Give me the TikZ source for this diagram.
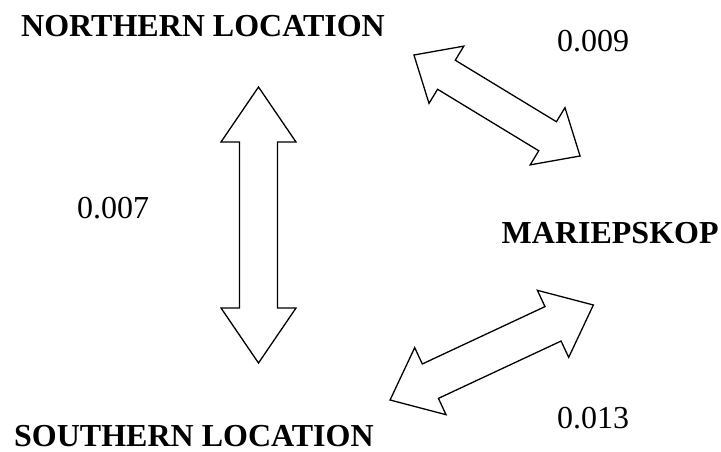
\documentclass[tikz,border=0pt]{standalone}
\usepackage{fontspec}
\setmainfont{Liberation Serif}

\tikzset{
  place/.style={anchor=base west, inner sep=0pt, font=\fontsize{32}{38}\selectfont\bfseries},
  value/.style={anchor=base west, inner sep=0pt, font=\fontsize{32}{38}\selectfont},
  hollow/.style={draw=black, fill=white, line width=1.3pt, line join=miter, miter limit=10}
}

% Hollow double-headed block arrow:
% #1,#2 centre; #3 angle; #4 half length; #5 head length;
% #6 head half width; #7 shaft half width
\newcommand\dblarrow[7]{%
  \begin{scope}[shift={(#1,#2)}, rotate=#3]
    \draw[hollow]
      (-#4,0) -- (-#4+#5,#6) -- (-#4+#5,#7) -- (#4-#5,#7) -- (#4-#5,#6)
      -- (#4,0) -- (#4-#5,-#6) -- (#4-#5,-#7) -- (-#4+#5,-#7)
      -- (-#4+#5,-#6) -- cycle;
  \end{scope}}

\begin{document}
\begin{tikzpicture}[x=1pt, y=1pt]
  \useasboundingbox (0,0) rectangle (721,-452);

  % locations
  \node[place] (north) at (21,-36.5) {NORTHERN LOCATION};
  \node[place] (south) at (14,-446.5) {SOUTHERN LOCATION};
  \node[place] (mariep) at (501.5,-243) {MARIEPSKOP};

  % exchange arrows
  \dblarrow{258.5}{-225}{90}{138}{55}{37.5}{19}
  \dblarrow{497}{-105.5}{-31.3}{97.2}{38}{33.5}{17}
  \dblarrow{491.7}{-352.5}{25.05}{112.2}{44.5}{37}{19}

  % values
  \node[value] (vns) at (77,-218) {0.007};
  \node[value] (vnm) at (557,-51.5) {0.009};
  \node[value] (vsm) at (557,-428) {0.013};
\end{tikzpicture}
\end{document}
